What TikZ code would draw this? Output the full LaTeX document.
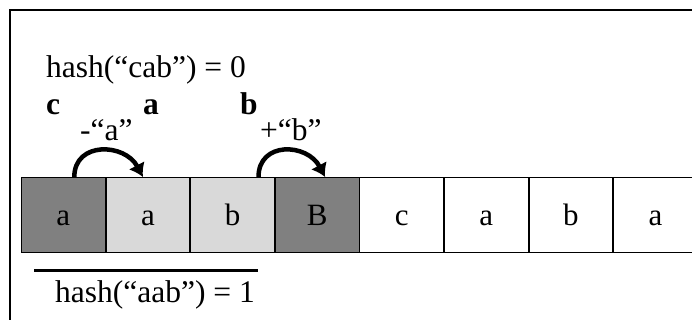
\documentclass[tikz,border=0pt]{standalone}
\usepackage{fontspec}
\setmainfont{Liberation Serif}
\definecolor{CellDark}{RGB}{128,128,128}
\definecolor{CellLight}{RGB}{217,217,217}
\usetikzlibrary{arrows,arrows.meta,positioning}

\begin{document}
\begin{tikzpicture}[x=1pt,y=-1pt,
    cell/.style={draw,line width=0.8pt,minimum width=83.8pt,minimum height=75pt,inner sep=0pt,text height=21pt,text depth=0pt,font=\fontsize{31}{35}\selectfont},
    lbl/.style={anchor=base west,inner sep=0pt,font=\fontsize{31.5}{36}\selectfont},
    boldlbl/.style={lbl,font=\fontsize{31.5}{36}\selectfont\bfseries},
    jump/.style={-{Latex[length=13pt,width=18pt]},line width=4.5pt}]
    \clip (0,0) rectangle (692,320);
    \draw[line width=1.6pt] (10,330) -- (10,10) -- (700,10);

    % Cells
    \node[cell,fill=CellDark,anchor=north west] (c1) at (21,177) {a};
    \node[cell,fill=CellLight,right=0pt of c1] (c2) {a};
    \node[cell,fill=CellLight,right=0pt of c2] (c3) {b};
    \node[cell,fill=CellDark,right=0pt of c3] (c4) {B};
    \node[cell,right=0pt of c4] (c5) {c};
    \node[cell,right=0pt of c5] (c6) {a};
    \node[cell,right=0pt of c6] (c7) {b};
    \node[cell,right=0pt of c7] (c8) {a};

    % Labels
    \node[lbl] (hcab) at (46,78) {hash(“cab”) = 0};
    \node[boldlbl] (bc) at (46,115) {c};
    \node[boldlbl] (ba) at (143,115) {a};
    \node[boldlbl] (bb) at (240,115) {b};
    \node[lbl] (minusa) at (80,141) {-“a”};
    \node[lbl] (plusb) at (260,141) {+“b”};

    \draw[jump] ([xshift=11pt]c1.north) .. controls +(0,-36) and +(-18,-34) .. ([xshift=-5pt]c2.north);
    \draw[jump] ([xshift=26pt]c3.north) .. controls +(0,-36) and +(-18,-34) .. ([xshift=8pt]c4.north);

    \draw[line width=3pt] (34,270) -- (258,270);
    \node[lbl] (haab) at (55,302) {hash(“aab”) = 1};
\end{tikzpicture}
\end{document}
